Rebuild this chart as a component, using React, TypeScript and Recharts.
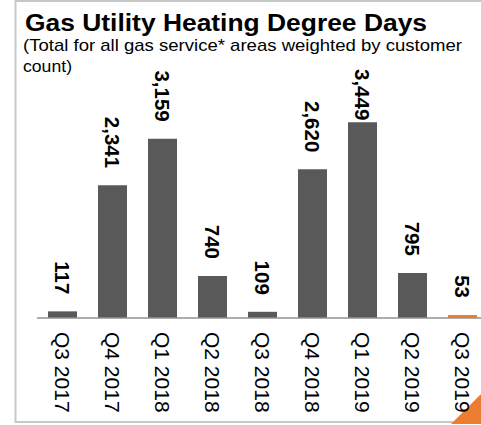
import { BarChart, Bar, XAxis, YAxis, Cell, LabelList } from "recharts";

const quarters = [
  "Q3 2017",
  "Q4 2017",
  "Q1 2018",
  "Q2 2018",
  "Q3 2018",
  "Q4 2018",
  "Q1 2019",
  "Q2 2019",
  "Q3 2019",
];
const degreeDays = [117, 2341, 3159, 740, 109, 2620, 3449, 795, 53];

const COLORS = {
  bar: "#595959",
  current: "#ED7D31", // latest quarter
  axis: "#929292",
  frame: "#c8c8c8",
  text: "#000",
};

const FONT = '"Liberation Sans", Arial, sans-serif';
const LABEL_SIZE = 20.5;

const data = quarters.map((q, i) => ({ quarter: q, hdd: degreeDays[i] }));

// rough width of a bold number string, used to keep tall labels inside the frame
const labelWidth = (s: string) =>
  s.split("").reduce((w, c) => w + (c === "," ? 0.278 : 0.556), 0) * LABEL_SIZE;

const ValueLabel = (props: any) => {
  const { x, y, width, value } = props;
  const text = Number(value).toLocaleString("en-US");
  const cx = x + width / 2;
  const endY = Math.max(y - 17, 69 + labelWidth(text));
  return (
    <text
      x={cx}
      y={endY}
      transform={`rotate(90, ${cx}, ${endY})`}
      textAnchor="end"
      dominantBaseline="central"
      fontFamily={FONT}
      fontSize={LABEL_SIZE}
      fontWeight="bold"
      fill={COLORS.text}
    >
      {text}
    </text>
  );
};

const QuarterTick = (props: any) => {
  const { x, payload } = props;
  const y = 332;
  return (
    <text
      x={x}
      y={y}
      transform={`rotate(90, ${x}, ${y})`}
      textAnchor="start"
      dominantBaseline="central"
      fontFamily={FONT}
      fontSize={21}
      fill={COLORS.text}
    >
      {payload.value}
    </text>
  );
};

export default function App() {
  return (
    <div
      style={{
        position: "absolute",
        left: 0,
        top: 0,
        width: 481,
        height: 425,
        overflow: "hidden",
        background: "#fff",
        fontFamily: FONT,
      }}
    >
      <svg
        width={481}
        height={425}
        style={{ position: "absolute", left: 0, top: 0 }}
      >
        {/* frame: right side is cut off in the original */}
        <path
          d="M 490 1 H 15.5 V 422 H 490"
          fill="none"
          stroke={COLORS.frame}
          strokeWidth={2}
        />
        <text
          x={25}
          y={30.5}
          fontFamily={FONT}
          fontSize={23}
          fontWeight="bold"
          textLength={402}
          lengthAdjust="spacingAndGlyphs"
          fill={COLORS.text}
        >
          Gas Utility Heating Degree Days
        </text>
        <text
          x={23}
          y={51}
          fontFamily={FONT}
          fontSize={17}
          textLength={439}
          lengthAdjust="spacingAndGlyphs"
          fill={COLORS.text}
        >
          (Total for all gas service* areas weighted by customer
        </text>
        <text
          x={23}
          y={72}
          fontFamily={FONT}
          fontSize={17}
          textLength={49}
          lengthAdjust="spacingAndGlyphs"
          fill={COLORS.text}
        >
          count)
        </text>
        <polygon points="451,424 481,394 481,424" fill={COLORS.current} />
      </svg>
      <div
        style={{
          position: "absolute",
          left: 0,
          top: 0,
          width: 481,
          height: 425,
          overflow: "hidden",
        }}
      >
        <BarChart
          width={500}
          height={425}
          data={data}
          margin={{ top: 91, right: 13, left: 37, bottom: 0 }}
          barSize={29}
        >
          <XAxis
            dataKey="quarter"
            height={107}
            interval={0}
            tickLine={false}
            axisLine={{ stroke: COLORS.axis, strokeWidth: 1.5 }}
            tick={<QuarterTick />}
          />
          <YAxis hide domain={[0, 4000]} />
          <Bar dataKey="hdd" isAnimationActive={false}>
            {data.map((_, i) => (
              <Cell
                key={`cell-${i}`}
                fill={i === data.length - 1 ? COLORS.current : COLORS.bar}
              />
            ))}
            <LabelList dataKey="hdd" content={<ValueLabel />} />
          </Bar>
        </BarChart>
      </div>
    </div>
  );
}
